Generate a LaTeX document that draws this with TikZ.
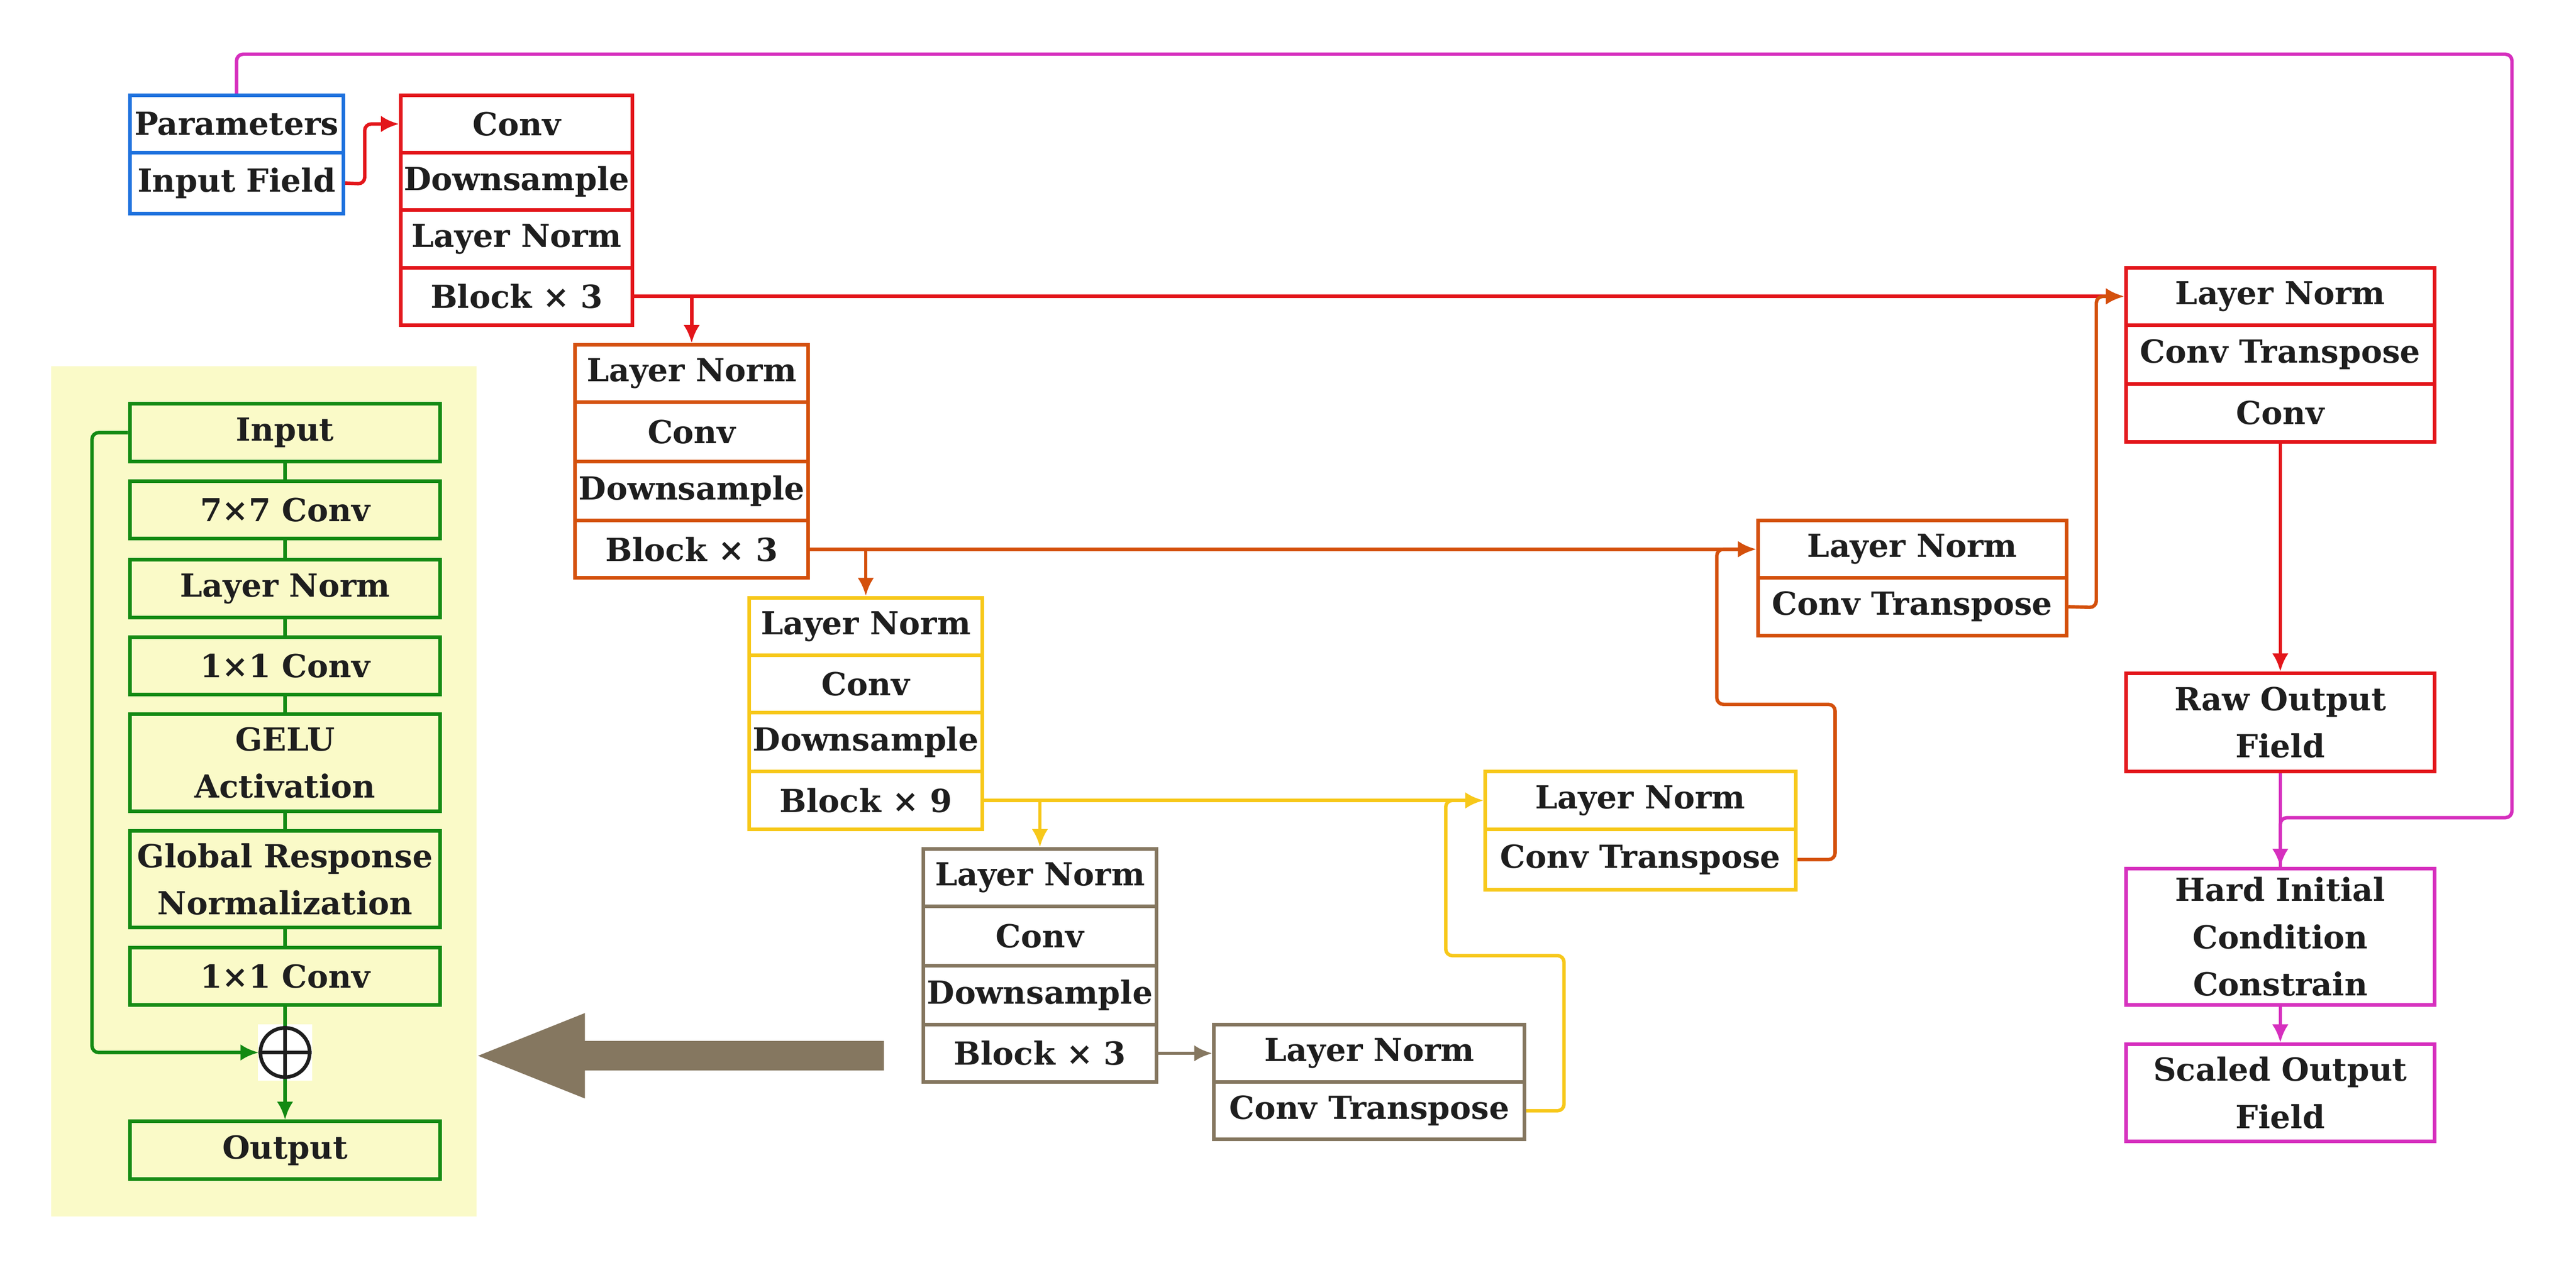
\documentclass[tikz,border=0pt]{standalone}
\usepackage{fontspec}
\setmainfont{DejaVu Serif}
\usetikzlibrary{arrows.meta}
\definecolor{cblue}{HTML}{1F72DE}
\definecolor{cred}{HTML}{E3161B}
\definecolor{corange}{HTML}{D4500C}
\definecolor{cyellow}{HTML}{F7C81A}
\definecolor{cbrown}{HTML}{857760}
\definecolor{cmag}{HTML}{D62FBE}
\definecolor{cgreen}{HTML}{138A13}
\definecolor{cbg}{HTML}{FAFAC8}
\definecolor{ctext}{HTML}{1E1E1E}
\tikzset{
 cell/.style={draw, line width=1.1mm, inner sep=0pt, align=center, text=ctext,
   font=\fontsize{27.5}{41}\selectfont\bfseries},
 conn/.style={line width=1.05mm, rounded corners=2mm},
 arr/.style={conn, -{Latex[length=5.5mm,width=5mm]}},
}
\newcommand\bx[7]{\node[cell, draw=#6, minimum width={(#4-#2)*0.5mm}, minimum height={(#5-#3)*0.5mm}] (#1) at ({(#2+#4)/2},{(#3+#5)/2}) {#7};}
\begin{document}
\begin{tikzpicture}[x=0.5mm,y=-0.5mm]
\useasboundingbox (0,0) rectangle (1568,769);
% left panel
\fill[cbg] (31,223) rectangle (290,741);
% big arrow
\fill[cbrown] (538,634) -- (356,634) -- (356,617) -- (291,643) -- (356,669) -- (356,652) -- (538,652) -- cycle;
% params
\bx{pp}{79}{58}{209}{93}{cblue}{Parameters}
\bx{pin}{79}{93}{209}{130}{cblue}{Input Field}
% red encoder
\bx{r1}{244}{58}{385}{93}{cred}{Conv}
\bx{r2}{244}{93}{385}{128}{cred}{Downsample}
\bx{r3}{244}{128}{385}{163}{cred}{Layer Norm}
\bx{r4}{244}{163}{385}{198}{cred}{Block × 3}
% orange encoder
\bx{o1}{350}{210}{492}{245}{corange}{Layer Norm}
\bx{o2}{350}{245}{492}{281}{corange}{Conv}
\bx{o3}{350}{281}{492}{317}{corange}{Downsample}
\bx{o4}{350}{317}{492}{352}{corange}{Block × 3}
% yellow encoder
\bx{y1}{456}{364}{598}{399}{cyellow}{Layer Norm}
\bx{y2}{456}{399}{598}{434}{cyellow}{Conv}
\bx{y3}{456}{434}{598}{470}{cyellow}{Downsample}
\bx{y4}{456}{470}{598}{505}{cyellow}{Block × 9}
% brown encoder
\bx{b1}{562}{517}{704}{552}{cbrown}{Layer Norm}
\bx{b2}{562}{552}{704}{588}{cbrown}{Conv}
\bx{b3}{562}{588}{704}{624}{cbrown}{Downsample}
\bx{b4}{562}{624}{704}{659}{cbrown}{Block × 3}
% decoders
\bx{bd1}{739}{624}{928}{659}{cbrown}{Layer Norm}
\bx{bd2}{739}{659}{928}{694}{cbrown}{Conv Transpose}
\bx{yd1}{904}{470}{1093}{505}{cyellow}{Layer Norm}
\bx{yd2}{904}{505}{1093}{542}{cyellow}{Conv Transpose}
\bx{od1}{1070}{317}{1258}{352}{corange}{Layer Norm}
\bx{od2}{1070}{352}{1258}{387}{corange}{Conv Transpose}
\bx{rd1}{1294}{163}{1482}{198}{cred}{Layer Norm}
\bx{rd2}{1294}{198}{1482}{234}{cred}{Conv Transpose}
\bx{rd3}{1294}{234}{1482}{269}{cred}{Conv}
\bx{raw}{1294}{410}{1482}{470}{cred}{Raw Output\\Field}
\bx{hic}{1294}{529}{1482}{612}{cmag}{Hard Initial\\Condition\\Constrain}
\bx{sof}{1294}{636}{1482}{695}{cmag}{Scaled Output\\Field}
% green block
\bx{g1}{79}{246}{268}{281}{cgreen}{Input}
\bx{g2}{79}{293}{268}{328}{cgreen}{7×7 Conv}
\bx{g3}{79}{341}{268}{376}{cgreen}{Layer Norm}
\bx{g4}{79}{388}{268}{423}{cgreen}{1×1 Conv}
\bx{g5}{79}{435}{268}{494}{cgreen}{GELU\\Activation}
\bx{g6}{79}{506}{268}{565}{cgreen}{Global Response\\Normalization}
\bx{g7}{79}{577}{268}{612}{cgreen}{1×1 Conv}
\bx{g8}{79}{683}{268}{718}{cgreen}{Output}
\fill[white] (157,624) rectangle (190,658);
\node[circle, draw=ctext, line width=1.1mm, minimum size=15mm, inner sep=0pt] (op) at (173.5,641) {};
\draw[ctext, line width=1.1mm] (op.north) -- (op.south) (op.west) -- (op.east);
\begin{scope}[cgreen]
\draw[conn] (g1) -- (g2); \draw[conn] (g2) -- (g3); \draw[conn] (g3) -- (g4);
\draw[conn] (g4) -- (g5); \draw[conn] (g5) -- (g6); \draw[conn] (g6) -- (g7);
\draw[conn] (g7) -- (op);
\draw[arr] (op) -- (g8);
\coordinate (gl) at (56,641);
\draw[arr] (g1.west) -| (gl) -- (op.west);
\end{scope}
% red connectors
\coordinate (rj) at (222,112);
\draw[arr, cred] (pin.east) -- (rj) |- (r1.west);
\draw[arr, cred] (r4.east) -- (rd1.west);
\draw[arr, cred] (r4.east -| o1.north) -- (o1.north);
\draw[arr, cred] (rd3.south) -- (raw.north);
% orange
\draw[arr, corange] (o4.east) -- (od1.west);
\draw[arr, corange] (o4.east -| y1.north) -- (y1.north);
\coordinate (oj) at (1276,370);
\draw[arr, corange] (od2.east) -- (oj) |- (rd1.west);
% yellow
\draw[arr, cyellow] (y4.east) -- (yd1.west);
\draw[arr, cyellow] (y4.east -| b1.north) -- (b1.north);
\coordinate (yj1) at (1117,429);
\coordinate (yj2) at (1045,429);
\draw[arr, corange] (yd2.east) -| (yj1) -- (yj2) |- (od1.west);
% brown
\draw[arr, cbrown] (b4.east) -- (bd1.west);
\coordinate (bj1) at (952,582);
\coordinate (bj2) at (880,582);
\draw[arr, cyellow] (bd2.east) -| (bj1) -- (bj2) |- (yd1.west);
% magenta
\coordinate (m1) at (1529,33);
\coordinate (m2) at (1529,498);
\draw[conn, cmag] (raw.south) -- (hic.north);
\draw[arr, cmag] (pp.north) |- (m1) -- (m2) -| (hic.north);
\draw[arr, cmag] (hic.south) -- (sof.north);
\end{tikzpicture}
\end{document}
